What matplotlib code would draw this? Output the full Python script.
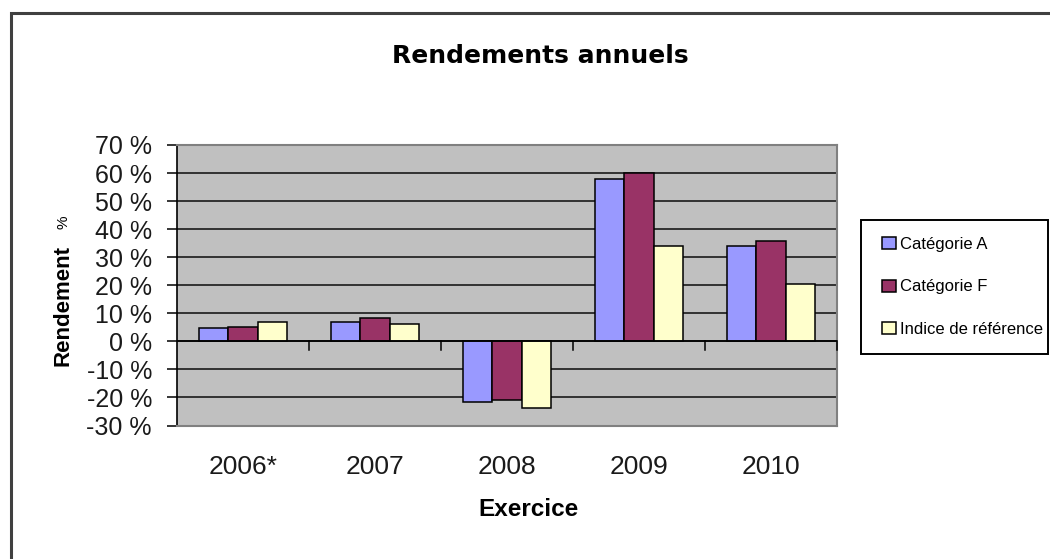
import matplotlib
matplotlib.use("Agg")
import matplotlib.pyplot as plt
from matplotlib.patches import Rectangle
import numpy as np

years = ["2006*", "2007", "2008", "2009", "2010"]
cat_a = [4.7, 7.0, -21.6, 57.8, 34.0]
cat_f = [5.0, 8.3, -20.8, 59.9, 35.6]
indice = [7.0, 6.3, -23.6, 34.0, 20.5]
series_names = ["Catégorie A", "Catégorie F", "Indice de référence"]
colors = ["#9999FF", "#993366", "#FFFFCC"]
y_ticks = list(range(-30, 80, 10))

plt.rcParams["font.family"] = ["Liberation Sans", "DejaVu Sans"]

W, H = 1050, 559
fig = plt.figure(figsize=(W / 100, H / 100), dpi=100)
ax = fig.add_axes([177 / W, 1 - 425.5 / H, 660 / W, 280.5 / H])
ax.set_facecolor("#C0C0C0")

x = np.arange(len(years))
w = 1 / 4.5
for i, (vals, name, c) in enumerate(zip([cat_a, cat_f, indice], series_names, colors)):
    ax.bar(x + (i - 1) * w, vals, width=w, color=c, edgecolor="black",
           linewidth=1.1, label=name, zorder=3)

ax.set_xlim(-0.5, len(years) - 0.5)
ax.set_ylim(-30, 70)
ax.set_yticks(y_ticks)
ax.set_yticklabels([f"{v} %" for v in y_ticks], fontsize=18, color="#1a1a1a")
ax.yaxis.grid(True, color="#1a1a1a", linewidth=1.2, zorder=1)
ax.set_axisbelow(True)

# axe des x sur le zéro, graduations entre les catégories
ax.axhline(0, color="black", linewidth=1.2, zorder=4)
for b in np.arange(0.5, len(years), 1.0):
    ax.plot([b, b], [0, -3.2], color="black", linewidth=1.1, zorder=4, clip_on=False)
ax.set_xticks(x)
ax.set_xticklabels(years, fontsize=19, color="#1a1a1a")
ax.tick_params(axis="x", length=0, pad=21)
ax.tick_params(axis="y", length=7, width=1.1, direction="out", pad=11)

for s in ["top", "right", "bottom"]:
    ax.spines[s].set_color("#808080")
    ax.spines[s].set_linewidth(1.5)
ax.spines["left"].set_color("black")
ax.spines["left"].set_linewidth(1.2)

fig.text(528 / W, 1 - 510 / H, "Exercice", ha="center", va="center",
         fontsize=17.5, fontweight="bold")
fig.text(63 / W, 1 - 305 / H, "Rendement", ha="center", va="center", rotation=90,
         fontsize=16, fontweight="bold")
fig.text(63 / W, 1 - 222 / H, "%", ha="center", va="center", rotation=90,
         fontsize=11)

fig.text(540 / W, 1 - 63 / H, "Rendements annuels", ha="center", va="baseline",
         fontsize=18, fontweight="bold", family="DejaVu Sans")

leg = ax.legend(loc="center left", bbox_to_anchor=(882 / W, 1 - 287 / H),
                bbox_transform=fig.transFigure, frameon=False,
                fontsize=12, handlelength=0.85, handleheight=0.75,
                handletextpad=0.2, labelspacing=1.65, borderpad=0, borderaxespad=0)

# cadre de la légende (le texte déborde presque à droite comme dans Excel)
fig.patches.append(Rectangle((861 / W, 1 - 354 / H), 187 / W, 134 / H,
                             transform=fig.transFigure, fill=False,
                             edgecolor="black", linewidth=1.4))

# cadre extérieur du graphique
fig.patches.append(Rectangle((10.5 / W, -0.1), 1.2, 1 - 13.5 / H + 0.1,
                             transform=fig.transFigure, fill=False,
                             edgecolor="#404040", linewidth=2.2))

fig.savefig("out.png", dpi=100)
